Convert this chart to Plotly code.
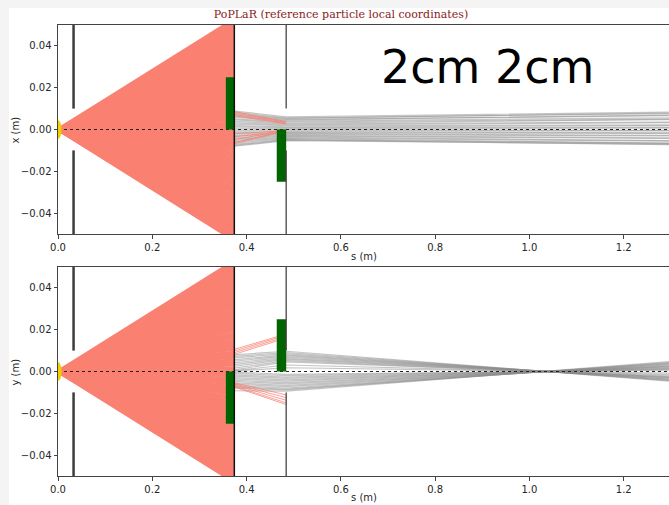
import plotly.graph_objects as go
from plotly.subplots import make_subplots

# ---------------- data (element positions in m, offsets in mm) ----------------
S_COLL = 0.033       # first collimator
S_SLIT = 0.374       # slit plane (end of fan)
S_AP2 = 0.484        # second aperture
S_END = 1.296        # right edge of view

coll_half_gap = 0.01
ap2_half_gap = 0.01

# green blocks (s0, s1, lo, hi) per plane
blocks_x = [(0.356, 0.374, 0.0, 0.025), (0.464, 0.484, -0.025, 0.0)]
blocks_y = [(0.356, 0.374, -0.025, 0.0), (0.464, 0.484, 0.0, 0.025)]

# fan of lost particles: offset (mm) reached at S_SLIT
fan_x_end_mm = [-53.0, -51.6, -50.5, -49.1, -47.8, -46.6, -45.2, -44.1, -42.7, -41.5,
                -40.2, -38.9, -37.8, -36.4, -35.2, -33.9, -32.5, -31.4, -30.0, -28.8,
                -27.5, -26.1, -25.0, -23.7, -22.4, -21.1, -19.9, -18.6, -17.3, -16.0,
                -14.8, -13.5, -12.2, -11.0, -9.7, -8.4, -7.1, -5.9, -4.6, -3.3,
                -2.1, -0.8, 0.5, 1.7, 3.0, 4.3, 5.6, 6.8, 8.1, 9.4,
                10.6, 11.9, 13.2, 14.5, 15.7, 17.0, 18.3, 19.5, 20.8, 22.1,
                23.3, 24.6, 25.9, 27.1, 28.4, 29.7, 30.9, 32.2, 33.5, 34.7,
                36.0, 37.4, 38.5, 39.9, 41.1, 42.4, 43.8, 44.9, 46.3, 47.5,
                48.9, 50.1, 51.4, 52.8]
fan_y_end_mm = [-52.9, -51.7, -50.3, -49.2, -47.9, -46.5, -45.3, -44.0, -42.8, -41.4,
                -40.3, -39.0, -37.6, -36.5, -35.1, -33.8, -32.6, -31.3, -30.1, -28.7,
                -27.4, -26.2, -24.9, -23.6, -22.5, -21.2, -19.8, -18.5, -17.4, -16.1,
                -14.7, -13.4, -12.3, -10.9, -9.6, -8.5, -7.2, -5.8, -4.5, -3.4,
                -2.0, -0.9, 0.4, 1.8, 3.1, 4.2, 5.5, 6.9, 8.0, 9.3,
                10.7, 12.0, 13.1, 14.4, 15.8, 17.1, 18.2, 19.6, 20.9, 22.0,
                23.4, 24.7, 25.8, 27.2, 28.5, 29.6, 31.0, 32.3, 33.4, 34.8,
                36.1, 37.3, 38.6, 39.8, 41.2, 42.5, 43.7, 45.0, 46.2, 47.6,
                48.8, 50.2, 51.3, 52.9]

# transmitted particles: offset (mm) at S_SLIT, S_AP2, S_END
trans_x_mm = [
    (8.8, 6.1, 8.3), (8.2, 5.6, 7.6), (7.5, 5.3, 7.9), (7.0, 4.8, 6.6),
    (6.4, 4.5, 6.9), (5.9, 4.0, 5.6), (5.1, 3.6, 5.0), (4.6, 3.1, 4.7),
    (3.9, 2.7, 3.6), (3.2, 2.2, 3.3), (2.6, 1.8, 2.2), (1.9, 1.3, 1.9),
    (1.3, 0.9, 1.0), (0.6, 0.4, 0.7), (-0.2, -0.1, -0.4), (-0.8, -0.6, -0.7),
    (-1.5, -1.0, -1.6), (-2.1, -1.5, -1.9), (-2.8, -1.9, -2.8), (-3.3, -2.3, -3.1),
    (-4.0, -2.8, -4.0), (-4.6, -3.2, -4.3), (-5.2, -3.6, -5.3), (-5.8, -4.0, -5.6),
    (-6.5, -4.4, -6.5), (-7.1, -4.8, -6.6), (-7.6, -5.0, -7.2), (-8.0, -5.3, -7.0),
]
trans_y_mm = [
    (8.0, 9.7, -4.6), (7.2, 9.1, -4.2), (6.5, 8.6, -4.1), (5.6, 8.0, -3.7),
    (4.9, 7.5, -3.6), (4.1, 6.9, -3.2), (3.3, 6.3, -3.0), (2.5, 5.8, -2.7),
    (1.6, 5.2, -2.5), (0.8, 4.6, -2.1), (0.4, 3.1, -1.5), (0.2, 1.8, -0.8),
    (-0.3, -1.4, 0.7), (-0.9, -2.0, 0.9), (-1.6, -2.7, 1.3), (-2.2, -3.3, 1.5),
    (-2.9, -4.0, 1.9), (-3.5, -4.6, 2.2), (-4.2, -5.3, 2.5), (-4.8, -5.9, 2.7),
    (-5.5, -6.6, 3.1), (-6.1, -7.2, 3.4), (-6.8, -7.9, 3.7), (-7.4, -8.4, 4.0),
    (-8.0, -8.8, 4.2), (-9.2, -9.4, 4.7),
]

# particles lost after the slit: (offset at S_SLIT, s where lost, offset there) mm
lost_x = [(8.6, 0.484, 3.8), (8.0, 0.484, 3.4), (7.2, 0.484, 3.0), (6.6, 0.484, 2.7),
          (-2.0, 0.464, -0.8), (-3.5, 0.464, -1.1), (-4.8, 0.464, -1.3),
          (-6.2, 0.464, -1.6), (-6.8, 0.464, -1.8)]
lost_y = [(10.6, 0.464, 16.6), (9.8, 0.464, 16.0), (9.0, 0.464, 15.3), (8.2, 0.464, 14.6),
          (-5.4, 0.484, -11.2), (-5.9, 0.484, -12.5), (-6.4, 0.484, -13.8),
          (-7.0, 0.484, -15.0), (-7.4, 0.484, -15.8)]

s_ticks = [0.0, 0.2, 0.4, 0.6, 0.8, 1.0, 1.2]
s_ticktext = ["0.0", "0.2", "0.4", "0.6", "0.8", "1.0", "1.2"]
off_ticks = [-0.04, -0.02, 0.0, 0.02, 0.04]
off_ticktext = ["\u22120.04", "\u22120.02", "0.00", "0.02", "0.04"]

TITLE = "PoPLaR (reference particle local coordinates)"
LABEL = "2cm 2cm"

# ---------------- figure ----------------
W, H = 669, 505
ML, MR, MT, MB = 58, 0, 25, 29
PW, PH = W - ML - MR, H - MT - MB


def px_x(px):
    return (px - ML) / PW


def px_y(py):
    return (H - MB - py) / PH


fig = make_subplots(rows=2, cols=1)

SALMON = "#FA8072"
GREY = "rgba(140,140,140,0.5)"


def add_plane(row, fan_end, trans, lost, blocks):
    # transmitted (grey)
    xs, ys = [], []
    for a, b, c in trans:
        xs += [S_SLIT, S_AP2, S_END, None]
        ys += [a / 1000, b / 1000, c / 1000, None]
    fig.add_trace(go.Scatter(x=xs, y=ys, mode="lines", line=dict(color=GREY, width=1.2),
                             hoverinfo="skip", showlegend=False), row=row, col=1)
    # fan (salmon)
    xs, ys = [], []
    for e in fan_end:
        xs += [0.0, S_SLIT, None]
        ys += [0.0, e / 1000, None]
    fig.add_trace(go.Scatter(x=xs, y=ys, mode="lines", line=dict(color=SALMON, width=3.2),
                             hoverinfo="skip", showlegend=False), row=row, col=1)
    # lost after slit (salmon)
    xs, ys = [], []
    for a, s, b in lost:
        xs += [S_SLIT, s, None]
        ys += [a / 1000, b / 1000, None]
    fig.add_trace(go.Scatter(x=xs, y=ys, mode="lines",
                             line=dict(color="rgba(250,128,114,0.75)", width=1),
                             hoverinfo="skip", showlegend=False), row=row, col=1)
    # reference orbit
    fig.add_trace(go.Scatter(x=[0, S_END], y=[0, 0], mode="lines",
                             line=dict(color="#222222", width=1, dash="dot"),
                             hoverinfo="skip", showlegend=False), row=row, col=1)
    xr = "x" if row == 1 else "x2"
    yr = "y" if row == 1 else "y2"
    for s0, s1, lo, hi in blocks:
        fig.add_shape(type="rect", xref=xr, yref=yr, x0=s0, x1=s1, y0=lo, y1=hi,
                      fillcolor="#006400", line=dict(width=0), layer="above")
    # collimator bars
    for lo, hi in [(coll_half_gap, 0.05), (-0.05, -coll_half_gap)]:
        fig.add_shape(type="line", xref=xr, yref=yr, x0=S_COLL, x1=S_COLL, y0=lo, y1=hi,
                      line=dict(color="#3c3c3c", width=2.5), layer="above")
    # slit plane
    fig.add_shape(type="line", xref=xr, yref=yr, x0=S_SLIT, x1=S_SLIT, y0=-0.05, y1=0.05,
                  line=dict(color="#111111", width=1.5), layer="above")
    # second aperture
    for lo, hi in [(ap2_half_gap, 0.05), (-0.05, -ap2_half_gap)]:
        fig.add_shape(type="line", xref=xr, yref=yr, x0=S_AP2, x1=S_AP2, y0=lo, y1=hi,
                      line=dict(color="#444444", width=1.3), layer="above")
    # source
    fig.add_shape(type="circle", xref=xr, yref=yr, x0=-0.0075, x1=0.0075,
                  y0=-0.0046, y1=0.0046, fillcolor="#F2D000", line=dict(width=0),
                  layer="above")


add_plane(1, fan_x_end_mm, trans_x_mm, lost_x, blocks_x)
add_plane(2, fan_y_end_mm, trans_y_mm, lost_y, blocks_y)

tickfont = dict(family="DejaVu Sans", size=10, color="#262626")
ax_common = dict(showgrid=False, zeroline=False, showline=True, linecolor="#444444",
                 linewidth=1, ticks="outside", ticklen=3.5, tickcolor="#444444",
                 tickfont=tickfont, automargin=False)

top_dom = [px_y(234), px_y(25)]
bot_dom = [px_y(476), px_y(267)]

fig.update_layout(
    width=W, height=H, margin=dict(l=ML, r=MR, t=MT, b=MB),
    paper_bgcolor="white", plot_bgcolor="white",
    xaxis=dict(range=[0, S_END], domain=[0, 1], tickvals=s_ticks, ticktext=s_ticktext,
               mirror=True, anchor="y", **ax_common),
    xaxis2=dict(range=[0, S_END], domain=[0, 1], tickvals=s_ticks, ticktext=s_ticktext,
                mirror=True, anchor="y2", **ax_common),
    yaxis=dict(range=[-0.05, 0.05], domain=top_dom, tickvals=off_ticks,
               ticktext=off_ticktext, mirror=False, anchor="x", **ax_common),
    yaxis2=dict(range=[-0.05, 0.05], domain=bot_dom, tickvals=off_ticks,
                ticktext=off_ticktext, mirror=False, anchor="x2", **ax_common),
    title=dict(text=TITLE, x=341 / W, xanchor="center", y=1 - 14 / H, yanchor="middle",
               font=dict(family="DejaVu Serif", size=11, color="#8B1A1A")),
)

lab_font = dict(family="DejaVu Sans", size=10, color="#262626")
annos = [
    dict(text="s (m)", x=0.5, y=px_y(256)),
    dict(text="s (m)", x=0.5, y=px_y(497)),
    dict(text="x (m)", x=px_x(15), y=px_y(129.5), textangle=-90),
    dict(text="y (m)", x=px_x(15), y=px_y(371.5), textangle=-90),
]
for a in annos:
    fig.add_annotation(xref="paper", yref="paper", showarrow=False, font=lab_font,
                       xanchor="center", yanchor="middle", **a)
fig.add_annotation(xref="paper", yref="paper", x=px_x(487), y=px_y(67), text=LABEL,
                   showarrow=False, xanchor="center", yanchor="middle",
                   font=dict(family="DejaVu Sans", size=46, color="black"))

# light page border (notebook background)
fig.add_shape(type="rect", xref="paper", yref="paper", x0=px_x(0), x1=px_x(9),
              y0=px_y(H), y1=px_y(0), fillcolor="#f4f4f4", line=dict(width=0), layer="below")
fig.add_shape(type="rect", xref="paper", yref="paper", x0=px_x(0), x1=px_x(W),
              y0=px_y(8), y1=px_y(0), fillcolor="#f4f4f4", line=dict(width=0), layer="below")

fig.write_html("out.html")
